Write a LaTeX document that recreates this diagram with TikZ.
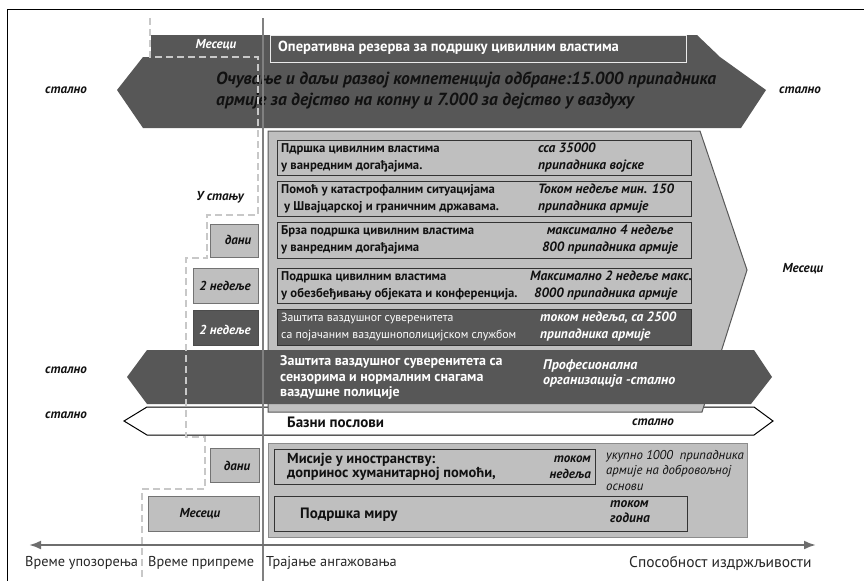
\documentclass[tikz,border=0pt]{standalone}
\usepackage{fontspec}
\setmainfont{PT Sans}
\usetikzlibrary{arrows.meta}
\definecolor{dg}{HTML}{575757}
\definecolor{lg}{HTML}{BFBFBF}
\definecolor{dashc}{HTML}{C8C8C8}
\definecolor{axc}{HTML}{6E6E6E}
\definecolor{ink}{HTML}{111111}
\newcommand{\myfs}[2]{\fontsize{#1}{#2}\selectfont}
\begin{document}
\begin{tikzpicture}[x=1pt,y=-1pt,
  ibox/.style={draw=black!80, line width=1.1pt, fill=lg, inner sep=0},
  sbox/.style={draw=black!55, line width=0.8pt, fill=lg, inner sep=0},
  dbox/.style={draw=black!80, line width=1.1pt, fill=dg, inner sep=0},
  bt/.style={inner sep=0, anchor=west, align=left, text=ink, font=\bfseries\myfs{12.7}{17}},
  rt/.style={inner sep=0, anchor=west, align=left, font=\myfs{11.8}{17}},
  it/.style={inner sep=0, anchor=west, align=left, text=ink, font=\bfseries\itshape\myfs{13.5}{17}},
  lbl/.style={inner sep=0, text=ink, font=\bfseries\itshape\myfs{13}{16}},
  axl/.style={inner sep=0, anchor=west, text=black!85, font=\myfs{14.3}{16}},
  prepline/.style={draw=dashc, line width=2.5pt, dash pattern=on 7pt off 4pt},
  vline/.style={draw=black!50, line width=1.4pt},
  axis/.style={draw=axc, line width=2.2pt, {Latex[length=12pt,width=9pt]}-{Latex[length=12pt,width=9pt]}}
]
\useasboundingbox (0,0) rectangle (868,581);
% frame
\draw[line width=0.8pt] (7,581) -- (7,9) -- (864,9);

% top dark band
\fill[dg] (151,35) -- (697,35) -- (720,57) -- (766,90) -- (741,128) -- (143,128) -- (117,90) -- (143,57) -- (151,57) -- cycle;
\node[dbox, draw=white!92!black, line width=1pt, minimum width=416pt, minimum height=27pt, anchor=north west] (ops) at (270,35) {};
\node[inner sep=0, anchor=west, text=white, font=\bfseries\myfs{14.6}{16}] (opst) at (278,48) {Оперативна резерва за подршку цивилним властима};
\node[inner sep=0, text=white, font=\bfseries\itshape\myfs{13}{16}] (mes1) at (216,45) {Месеци};
\node[inner sep=0, anchor=west, align=left, text=ink, font=\bfseries\itshape\myfs{17.5}{21}] (tb) at (216,90.5) {Очување и даљи развој компетенција одбране:15.000 припадника\\армије за дејство на копну и 7.000 за дејство у ваздуху};

% white chevron
\draw[line width=1pt, fill=white] (147,407) -- (754,407) -- (773,421) -- (754,435) -- (147,435) -- (124,421) -- cycle;

% gray trapezoid
\draw[fill=lg, draw=black!65, line width=1pt] (268,131) -- (700,131) -- (747,270) -- (702,412) -- (268,412) -- cycle;

% inner boxes
\node[ibox, minimum width=414pt, minimum height=35pt, anchor=north west] (b1) at (277,140) {};
\node[ibox, minimum width=414pt, minimum height=35pt, anchor=north west] (b2) at (277,181) {};
\node[ibox, minimum width=414pt, minimum height=36pt, anchor=north west] (b3) at (277,222) {};
\node[ibox, minimum width=414pt, minimum height=35pt, anchor=north west] (b4) at (277,268) {};
\node[dbox, minimum width=414pt, minimum height=36pt, anchor=north west] (b5) at (277,309) {};

\node[bt] (t1a) at (281,157.5) {Пдршка цивилним властима\\у ванредним догађајима.};
\node[it] (t1b) at (538,157.5) {сса 35000\\припадника војске};
\node[bt] (t2a) at (281,198.5) {Помоћ у катастрофалним ситуацијама\\\hspace{3pt}у Швајцарској и граничним државама.};
\node[it] (t2b) at (538,198.5) {Током недеље мин. 150\\припадника армије};
\node[bt] (t3a) at (281,240) {Брза подршка цивилним властима\\у ванредним догађајима};
\node[it, anchor=center, align=center] (t3b) at (610,240) {максимално 4 недеље\\800 припадника армије};
\node[bt] (t4a) at (281,285.5) {Подршка цивилним властима\\у обезбеђивању објеката и конференција.};
\node[it] (t4b) at (530,285.5) {Максимално 2 недеље макс.\\\hspace{4pt}8000 припадника армије};
\node[rt, text=white] (t5a) at (281,327) {Заштита ваздушног суверенитета\\са појачаним ваздушнополицијском службом};
\node[it, text=white] (t5b) at (540,327) {током недеља, са 2500\\припадника армије};

% dark band 2
\fill[dg] (147,350) -- (754,350) -- (772,377) -- (751,404) -- (147,404) -- (127,377) -- cycle;
\node[bt, text=white, font=\bfseries\myfs{14}{15.5}] (d2a) at (280,377.5) {Заштита ваздушног суверенитета са\\сензорима и нормалним снагама\\ваздушне полиције};
\node[it, text=white, font=\itshape\bfseries\myfs{14}{15.5}] (d2b) at (543,373.5) {Професионална\\организација -стално};

% chevron texts
\node[bt, font=\bfseries\myfs{15}{18}] (bz) at (287,422) {Базни послови};
\node[lbl, anchor=west] (bzs) at (632,422) {стално};

% left boxes
\node[sbox, minimum width=48pt, minimum height=33pt, anchor=north west] (ld1) at (210,224) {};
\node[sbox, minimum width=65pt, minimum height=35pt, anchor=north west] (ld2) at (193,268) {};
\node[dbox, draw=black!70, line width=0.8pt, minimum width=65pt, minimum height=35pt, anchor=north west] (ld3) at (193,310) {};
\node[sbox, minimum width=49pt, minimum height=34pt, anchor=north west] (ld4) at (210,448) {};
\node[sbox, minimum width=111pt, minimum height=35pt, anchor=north west] (ld5) at (148,496) {};
\node[lbl] (ld1t) at (238,240) {дани};
\node[lbl] (ld2t) at (225,286) {2 недеље};
\node[lbl, text=white] (ld3t) at (225,330) {2 недеље};
\node[lbl] (ld4t) at (237,466) {дани};
\node[lbl] (ld5t) at (200,514) {Месеци};
\node[lbl] (ust) at (220,197) {У стању};

% side labels
\node[lbl] (s1) at (66,90) {стално};
\node[lbl] (s2) at (66,370) {стално};
\node[lbl] (s3) at (66,415) {стално};
\node[lbl] (s4) at (800,90) {стално};
\node[lbl] (m2) at (803,269) {Месеци};

% bottom section
\node[sbox, draw=black!45, minimum width=479pt, minimum height=94pt, anchor=north west] (bot) at (268,443) {};
\node[ibox, minimum width=321pt, minimum height=35pt, anchor=north west] (mis) at (274,449) {};
\node[ibox, minimum width=413pt, minimum height=35pt, anchor=north west] (pc) at (274,496) {};
\node[bt, font=\bfseries\myfs{14.5}{14.5}] (mist) at (287,467) {Мисије у иностранству:\\допринос хуманитарној помоћи,};
\node[it, anchor=east, align=right, font=\bfseries\itshape\myfs{13}{16}] (mist2) at (591,467) {током\\недеља};
\node[it, font=\itshape\myfs{12.8}{15.5}] (misn) at (606,470.5) {укупно 1000\ \ припадника\\армије на добровољној\\основи};
\node[bt, font=\bfseries\myfs{15}{17}] (pct) at (300,515) {Подршка миру};
\node[it, font=\bfseries\itshape\myfs{13.5}{15.5}] (pct2) at (610,511.5) {током\\година};

% dashed preparation line
\draw[prepline] (150,18) -- (150,57) -- (258,57) -- (258,215) -- (207,215) -- (207,258) -- (186,258) -- (186,437) -- (205,437) -- (205,489) -- (142,489) -- (142,581);

% vertical line
\coordinate (vt) at (263,18);
\coordinate (vb) at (263,581);
\draw[vline] (vt) -- (vb);

% axis
\coordinate (axL) at (29,545);
\coordinate (axR) at (816,545);
\draw[axis] (axL) -- (axR);
\node[axl] (a1) at (25,563) {Време упозорења};
\node[axl] (a2) at (148,563) {Време припреме};
\node[axl] (a3) at (266,563) {Трајање ангажовања};
\node[axl, font=\myfs{15.5}{16}] (a4) at (629,563) {Способност издржљивости};
\end{tikzpicture}
\end{document}
